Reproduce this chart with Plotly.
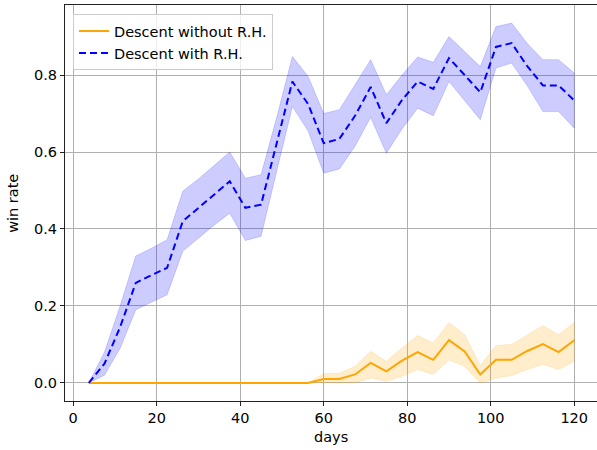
import plotly.graph_objects as go

days = [3.75 * k for k in range(1, 33)]

# Descent without R.H. (orange)
wo_mean = [0, 0, 0, 0, 0, 0, 0, 0, 0, 0, 0, 0, 0, 0, 0,
           0.01, 0.01, 0.022, 0.052, 0.03, 0.058, 0.08, 0.06, 0.111, 0.082,
           0.022, 0.06, 0.06, 0.083, 0.101, 0.08, 0.111]
wo_upper = [0, 0, 0, 0, 0, 0, 0, 0, 0, 0, 0, 0, 0, 0, 0,
            0.024, 0.025, 0.043, 0.082, 0.056, 0.091, 0.123, 0.104, 0.157, 0.125,
            0.045, 0.097, 0.1, 0.125, 0.149, 0.125, 0.157]
wo_lower = [0, 0, 0, 0, 0, 0, 0, 0, 0, 0, 0, 0, 0, 0, 0,
            0, 0, 0, 0.013, 0.004, 0.017, 0.035, 0.022, 0.06, 0.043,
            0, 0.013, 0.019, 0.035, 0.048, 0.035, 0.056]

# Descent with R.H. (blue)
w_mean = [0, 0.05, 0.145, 0.26, 0.28, 0.299, 0.42, 0.455, 0.49, 0.524,
          0.455, 0.463, 0.623, 0.783, 0.725, 0.623, 0.634, 0.694, 0.769, 0.675,
          0.735, 0.783, 0.764, 0.844, 0.80, 0.755, 0.873, 0.883, 0.823, 0.773,
          0.773, 0.734]
w_upper = [0, 0.08, 0.2, 0.33, 0.35, 0.372, 0.498, 0.53, 0.565, 0.6,
           0.532, 0.541, 0.69, 0.848, 0.797, 0.7, 0.71, 0.775, 0.84, 0.749,
           0.80, 0.847, 0.833, 0.9, 0.862, 0.822, 0.926, 0.935, 0.882, 0.84,
           0.84, 0.805]
w_lower = [0, 0.02, 0.09, 0.19, 0.21, 0.229, 0.342, 0.375, 0.41, 0.441,
           0.37, 0.381, 0.55, 0.718, 0.655, 0.545, 0.556, 0.615, 0.69, 0.597,
           0.66, 0.714, 0.694, 0.783, 0.735, 0.684, 0.818, 0.831, 0.772, 0.705,
           0.705, 0.662]

x_ticks = [0, 20, 40, 60, 80, 100, 120]
y_ticks = [0.0, 0.2, 0.4, 0.6, 0.8]
y_tick_text = ["0.0", "0.2", "0.4", "0.6", "0.8"]

fig = go.Figure()

fig.add_trace(go.Scatter(
    x=days + days[::-1], y=wo_upper + wo_lower[::-1],
    fill="toself", fillcolor="rgba(255,165,0,0.2)",
    line=dict(color="rgba(255,165,0,0.2)", width=0.8),
    mode="lines", showlegend=False, hoverinfo="skip"))
fig.add_trace(go.Scatter(
    x=days + days[::-1], y=w_upper + w_lower[::-1],
    fill="toself", fillcolor="rgba(0,0,255,0.2)",
    line=dict(color="rgba(0,0,255,0.2)", width=0.8),
    mode="lines", showlegend=False, hoverinfo="skip"))

fig.add_trace(go.Scatter(
    x=days, y=wo_mean, mode="lines", name="Descent without R.H.",
    line=dict(color="orange", width=2)))
fig.add_trace(go.Scatter(
    x=days, y=w_mean, mode="lines", name="Descent with R.H.",
    line=dict(color="blue", width=2, dash="7px,4px")))

font = dict(family="DejaVu Sans", size=14.5, color="#000000")

fig.update_layout(
    width=597, height=450,
    margin=dict(l=65, r=0, t=5, b=49, autoexpand=False),
    paper_bgcolor="white", plot_bgcolor="white",
    font=font,
    legend=dict(
        x=0.015, y=0.977, xanchor="left", yanchor="top",
        bgcolor="rgba(255,255,255,0.8)", bordercolor="#cccccc", borderwidth=1,
        font=font, tracegroupgap=0, itemwidth=30,
    ),
    xaxis=dict(
        range=[-1.95, 125.45], tickvals=x_ticks,
        showgrid=True, gridcolor="#b0b0b0", gridwidth=1,
        showline=True, linecolor="#222222", linewidth=1, mirror=True,
        ticks="outside", ticklen=4, tickcolor="#222222",
        zeroline=False, automargin=False,
    ),
    yaxis=dict(
        range=[-0.047, 0.982], tickvals=y_ticks, ticktext=y_tick_text,
        showgrid=True, gridcolor="#b0b0b0", gridwidth=1,
        showline=True, linecolor="#222222", linewidth=1,
        ticks="outside", ticklen=4, tickcolor="#222222",
        zeroline=False, automargin=False,
    ),
    annotations=[
        dict(text="days", xref="paper", yref="paper", x=0.5, y=-0.09,
             xanchor="center", yanchor="middle", showarrow=False, font=font),
        dict(text="win rate", xref="paper", yref="paper", x=-0.098, y=0.5,
             xanchor="center", yanchor="middle", showarrow=False,
             textangle=-90, font=font),
    ],
)

fig.write_html("out.html",
               config={"displayModeBar": False},
               post_script="document.body.style.margin='0';document.body.style.overflow='hidden';")
